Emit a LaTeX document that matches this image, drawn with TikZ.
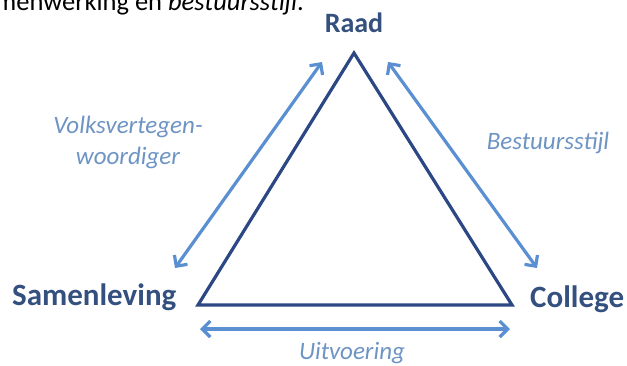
\documentclass[tikz,border=0pt]{standalone}
\usepackage{fontspec}
\setmainfont{Carlito}
\usetikzlibrary{arrows.meta}
\definecolor{tri}{HTML}{2B4784}
\definecolor{arr}{HTML}{5A8FD2}
\definecolor{lab}{HTML}{34507E}
\definecolor{ital}{HTML}{6E94C4}
\tikzset{
  tribox/.style={draw=tri, line width=3.2pt, line join=miter},
  biarrow/.style={draw=arr, line width=3.2pt, {Straight Barb[length=8pt,width=16pt,line width=3.2pt]}-{Straight Barb[length=8pt,width=16pt,line width=3.2pt]}},
  mainlab/.style={text=lab, font=\fontsize{31}{33}\selectfont\bfseries, inner sep=0pt, anchor=base},
  sidelab/.style={text=ital, font=\fontsize{25}{31}\selectfont\itshape, inner sep=0pt, align=center},
}
\begin{document}
\begin{tikzpicture}[x=1pt,y=-1pt]
\useasboundingbox (0,0) rectangle (627,365);
\clip (0,0) rectangle (627,365);
% top cut-off text
\node[anchor=base east, inner sep=0pt, font=\fontsize{26.5}{28}\selectfont] (top) at (304,10) {samenwerking en \textit{bestuursstijl}.};
% triangle
\coordinate (A) at (354,53);
\coordinate (B) at (198,305);
\coordinate (C) at (512,305);
\draw[tribox] (A) -- (B) -- (C) -- cycle;
% labels
\node[mainlab, font=\fontsize{28}{30}\selectfont\bfseries] (raad) at (354,32) {Raad};
\node[mainlab, anchor=base west] (sam) at (12,305) {Samenleving};
\node[mainlab, anchor=base west] (col) at (530,307) {College};
% arrows
\coordinate (l1) at (322,62);
\coordinate (l2) at (175,268);
\coordinate (r1) at (388,62);
\coordinate (r2) at (537,268);
\coordinate (b1) at (200,329);
\coordinate (b2) at (510,329);
\draw[biarrow] (l1) -- (l2);
\draw[biarrow] (r1) -- (r2);
\draw[biarrow] (b1) -- (b2);
% side labels
\node[sidelab] (volks) at (128,142) {Volksvertegen-\\woordiger};
\node[sidelab] (best) at (548,143) {Bestuursstijl};
\node[sidelab] (uit) at (352,353) {Uitvoering};
\end{tikzpicture}
\end{document}
